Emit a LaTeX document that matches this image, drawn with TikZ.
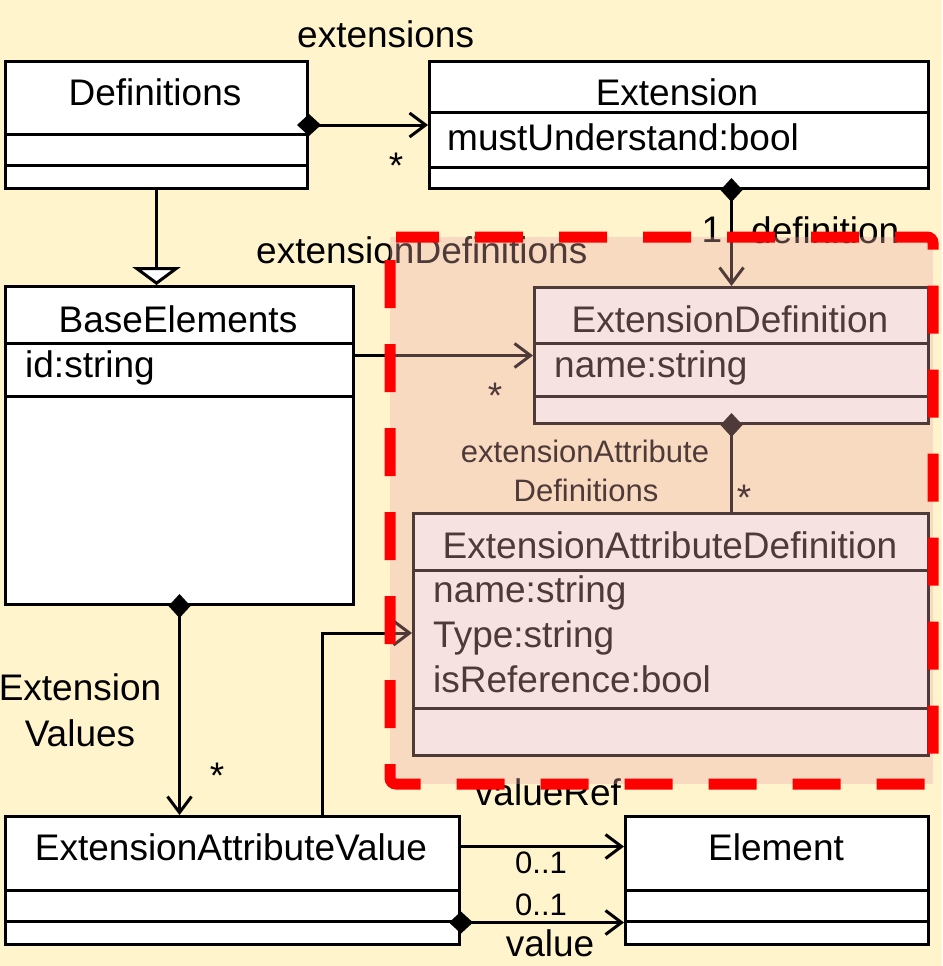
\documentclass[tikz,border=0pt]{standalone}
\usepackage{fontspec}
\setmainfont{Liberation Sans}
\usetikzlibrary{arrows.meta,calc}
\definecolor{bgcream}{RGB}{255,244,204}
\definecolor{regionrose}{RGB}{232,170,170}
\definecolor{regionred}{RGB}{255,0,0}
\tikzset{
    classbox/.style = {rectangle,
                    fill=white,
                    draw=black,
                    line width=3pt,
                    anchor=north west,
                    inner sep=0pt},
    classname/.style = {anchor=base,
                    inner sep=0pt,
                    text=black,
                    font=\fontsize{37}{44}\selectfont},
    attr/.style =   {classname,
                    anchor=base west},
    lbl/.style =    {classname},
    smalllbl/.style = {classname,
                    font=\fontsize{31}{37}\selectfont},
    -,
    conn/.style =   {draw=black,
                    line width=3pt},
    assoc/.style =  {conn,
                    -{Straight Barb[length=16pt,width=24pt]}},
    comp/.style =   {conn,
                    {Diamond[length=24pt,width=22pt]}-{Straight Barb[length=16pt,width=24pt]},
                    shorten <=-12pt},
    owner/.style =  {conn,
                    {Diamond[length=24pt,width=22pt]}-,
                    shorten <=-12pt},
    gen/.style =    {conn,
                    -{Triangle[open,fill=white,length=18pt,width=48pt]}},
    regionborder/.style = {draw=regionred,
                    line width=11pt,
                    dash pattern=on 48pt off 36pt,
                    dash phase=5pt,
                    rounded corners=6pt}}

\begin{document}
\begin{tikzpicture}[x=1pt,y=-1pt]
    \fill[bgcream] (0,0) rectangle (942,966);
    \useasboundingbox (0,0) rectangle (942,966);

    % classes
    \node[classbox, minimum width=302pt, minimum height=127pt] (defs)   at (4,60)    {};
    \node[classbox, minimum width=499pt, minimum height=127pt] (ext)    at (428,60)  {};
    \node[classbox, minimum width=348pt, minimum height=318pt] (base)   at (4,285)   {};
    \node[classbox, minimum width=394pt, minimum height=136pt] (extdef) at (533,286) {};
    \node[classbox, minimum width=515pt, minimum height=242pt] (ead)    at (412,512) {};
    \node[classbox, minimum width=454pt, minimum height=128pt] (eav)    at (4,815)   {};
    \node[classbox, minimum width=303pt, minimum height=128pt] (elem)   at (624,815) {};
    \foreach \b/\d in {defs/74,defs/105,ext/52,ext/107,base/58,base/111,
                       extdef/57,extdef/110,ead/58,ead/196,eav/75,eav/106,elem/75,elem/106}
        \draw[conn] ([yshift=-\d pt]\b.north west) -- ([yshift=-\d pt]\b.north east);

    \node[classname] (ndefs)   at (155,105) {Definitions};
    \node[classname] (next)    at (677,105) {Extension};
    \node[attr]      (aext)    at (447,150) {mustUnderstand:bool};
    \node[classname] (nbase)   at (178,332) {BaseElements};
    \node[attr]      (abase)   at (25,377)  {id:string};
    \node[classname] (nextdef) at (730,332) {ExtensionDefinition};
    \node[attr]      (aextdef) at (554,377) {name:string};
    \node[classname] (nead)    at (670,558) {ExtensionAttributeDefinition};
    \node[attr]      (aeadn)   at (433,602) {name:string};
    \node[attr]      (aeadt)   at (433,647) {Type:string};
    \node[attr]      (aeadr)   at (433,692) {isReference:bool};
    \node[classname] (neav)    at (231,860) {ExtensionAttributeValue};
    \node[classname] (nelem)   at (776,860) {Element};

    % connectors
    \draw[comp]  (defs.east) -- (ext.west);
    \draw[gen]   (defs.south) -- (defs.south |- base.north);
    \draw[comp]  (ext.south -| extdef.north) -- (extdef.north);
    \draw[assoc] (base.east |- extdef.west) -- (extdef.west);
    \draw[owner] (extdef.south) -- (extdef.south |- ead.north);
    \draw[comp]  (base.south) -- (base.south |- eav.north);
    \coordinate (refbend) at (322,633);
    \draw[assoc] (refbend |- eav.north) -- (refbend) -- (refbend -| ead.west);
    \draw[assoc] ([yshift=34pt]eav.east) -- ([yshift=34pt]elem.west);
    \draw[comp]  ([yshift=-42pt]eav.east) -- ([yshift=-42pt]elem.west);

    % role names and multiplicities
    \node[lbl, anchor=base west] (lext)    at (297,48)  {extensions};
    \node[lbl]                   (mext)    at (396,178) {*};
    \node[lbl, anchor=base west] (lextdef) at (256,263) {extensionDefinitions};
    \node[lbl]                   (mextdef) at (495,408) {*};
    \node[lbl]                   (mdef)    at (712,242) {1};
    \node[lbl, anchor=base west] (ldef)    at (751,243) {definition};
    \node[smalllbl]              (lattr)   at (585,462) {extensionAttribute};
    \node[smalllbl]              (lattrb)  at (586,501) {Definitions};
    \node[lbl]                   (mattr)   at (744,510) {*};
    \node[lbl]                   (lval)    at (80,700)  {Extension};
    \node[lbl]                   (lvalb)   at (80,746)  {Values};
    \node[lbl]                   (mval)    at (217,788) {*};
    \node[lbl]                   (lref)    at (548,805) {valueRef};
    \node[smalllbl]              (mref)    at (541,873) {0..1};
    \node[smalllbl]              (mvalue)  at (541,915) {0..1};
    \node[lbl]                   (lvalue)  at (550,956) {value};

    % extension definition region
    \fill[regionrose, opacity=0.34] (390,237) rectangle (933,784);
    \draw[regionborder] (390,237) -- (933,237) -- (933,784) -- (390,784) -- cycle;
\end{tikzpicture}
\end{document}
